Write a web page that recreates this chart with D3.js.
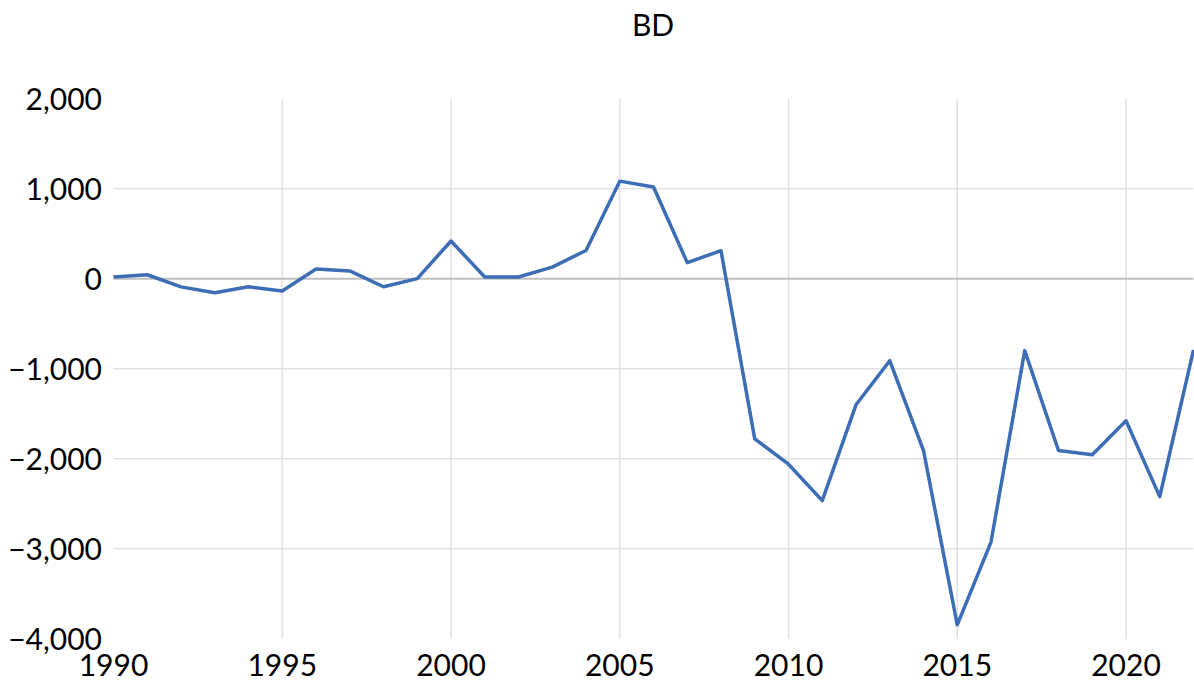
<!DOCTYPE html>
<html>
<head>
<meta charset="utf-8">
<script src="https://cdn.jsdelivr.net/npm/d3@7"></script>
<style>
  body { margin: 0; background: #fff; }
  text { font-family: Lato, "Open Sans", sans-serif; fill: #000; }
</style>
</head>
<body>
<div class="canvas"></div>
<script>
const years = [1990, 1991, 1992, 1993, 1994, 1995, 1996, 1997, 1998, 1999,
    2000, 2001, 2002, 2003, 2004, 2005, 2006, 2007, 2008, 2009,
    2010, 2011, 2012, 2013, 2014, 2015, 2016, 2017, 2018, 2019,
    2020, 2021, 2022];
const values = [20, 45, -90, -155, -88, -135, 108, 88, -88, 2,
    420, 20, 20, 130, 315, 1085, 1020, 180, 312, -1778,
    -2060, -2465, -1400, -910, -1908, -3845, -2925, -798, -1908, -1956,
    -1578, -2420, -790];
const xTicks = [1990, 1995, 2000, 2005, 2010, 2015, 2020];
const yTicks = [2000, 1000, 0, -1000, -2000, -3000, -4000];
const title = 'BD';

const width = 1194, height = 686;

const svg = d3.select('.canvas')
    .append('svg')
    .attr('width', width)
    .attr('height', height);

const x = d3.scaleLinear()
    .domain([1990, 2022])
    .range([113.5, 1193.5]);

const y = d3.scaleLinear()
    .domain([-4000, 2000])
    .range([638.8, 98.8]);

// vertical grid
svg.append('g')
    .selectAll('line')
    .data(xTicks.filter(d => d !== 1990))
    .enter()
    .append('line')
    .attr('x1', d => x(d))
    .attr('x2', d => x(d))
    .attr('y1', y(2000))
    .attr('y2', y(-4000))
    .attr('stroke', '#e1e1e1')
    .attr('stroke-width', 1.5);

// horizontal grid (top/bottom edges not drawn)
svg.append('g')
    .selectAll('line')
    .data(yTicks.filter(d => d !== 2000 && d !== -4000 && d !== 0))
    .enter()
    .append('line')
    .attr('x1', x(1990))
    .attr('x2', x(2022))
    .attr('y1', d => y(d))
    .attr('y2', d => y(d))
    .attr('stroke', '#e1e1e1')
    .attr('stroke-width', 1.5);

// zero line
svg.append('line')
    .attr('x1', x(1990))
    .attr('x2', x(2022))
    .attr('y1', y(0))
    .attr('y2', y(0))
    .attr('stroke', '#bfbfbf')
    .attr('stroke-width', 2);

// y labels
const fmt = d3.format(',');
svg.append('g')
    .selectAll('text')
    .data(yTicks)
    .enter()
    .append('text')
    .attr('x', 102)
    .attr('y', d => y(d))
    .attr('dy', '0.36em')
    .attr('text-anchor', 'end')
    .attr('font-size', 30)
    .text(d => fmt(d));

// x labels
svg.append('g')
    .selectAll('text')
    .data(xTicks)
    .enter()
    .append('text')
    .attr('x', d => x(d))
    .attr('y', 676)
    .attr('text-anchor', 'middle')
    .attr('font-size', 30)
    .text(d => d);

// title
svg.append('text')
    .attr('x', 653)
    .attr('y', 36)
    .attr('text-anchor', 'middle')
    .attr('font-size', 30)
    .text(title);

// the line
const line = d3.line()
    .x((d, i) => x(years[i]))
    .y(d => y(d));

svg.append('path')
    .datum(values)
    .attr('d', line)
    .attr('fill', 'none')
    .attr('stroke', '#3d6db5')
    .attr('stroke-width', 3.5)
    .attr('stroke-linejoin', 'round');
</script>
</body>
</html>
